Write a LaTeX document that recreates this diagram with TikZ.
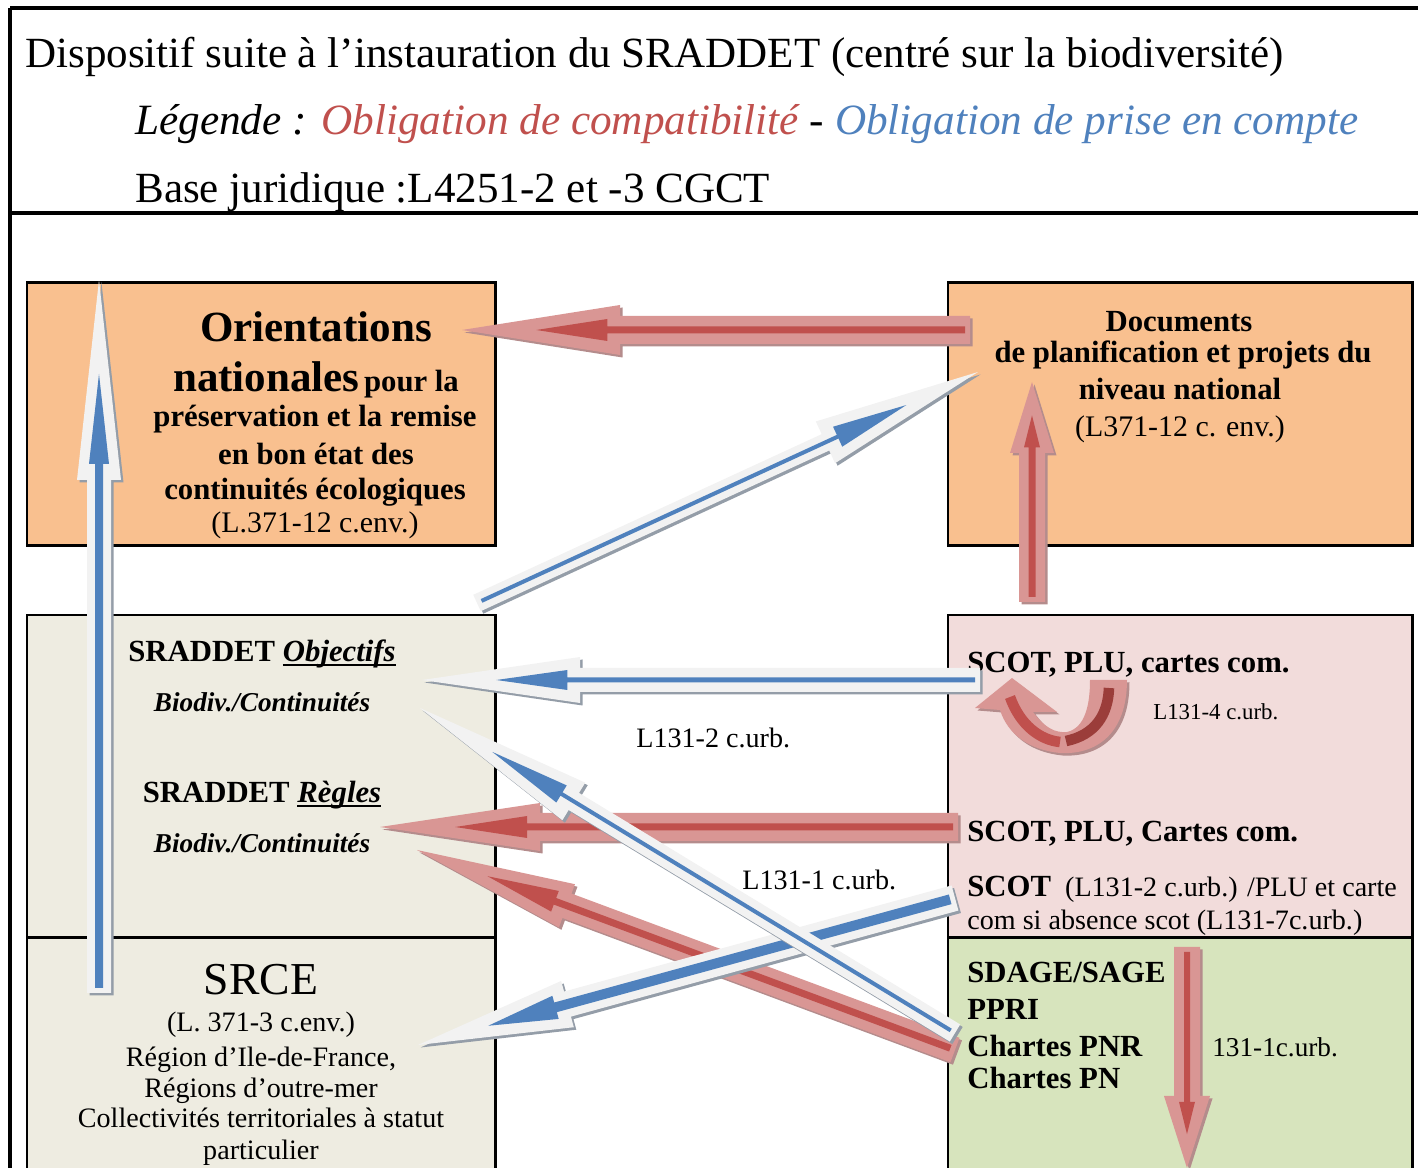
\documentclass[tikz,border=0pt]{standalone}
\usepackage{fontspec}
\setmainfont{Liberation Serif}
\usetikzlibrary{calc}
\definecolor{orangeF}{HTML}{F9C08F}
\definecolor{beigeF}{HTML}{EEECE1}
\definecolor{pinkF}{HTML}{F2DCDB}
\definecolor{greenF}{HTML}{D7E4BD}
\definecolor{redD}{HTML}{C0504D}
\definecolor{redDD}{HTML}{9B3D3A}
\definecolor{redL}{HTML}{D99694}
\definecolor{redS}{HTML}{B48C8C}
\definecolor{blueD}{HTML}{4F81BD}
\definecolor{blueL}{HTML}{F2F2F2}
\definecolor{blueS}{HTML}{949DA8}

\newcommand\fs[1]{\fontsize{#1}{#1}\selectfont}
\newcommand\ulw[1]{\setbox0\hbox{#1}\rlap{\rule[-2.4pt]{\wd0}{1.3pt}}\box0}

% block arrow: #1 tail, #2 tip, #3 shaft half width, #4 head half width, #5 head length (px), #6 style
\newcommand\blockarrow[6]{%
 \fill[#6] ($(#1)!#3*0.02cm!90:(#2)$)
   -- ($(#2)!#5*0.02cm!(#1)!#3*0.02cm!90:(#2)$)
   -- ($(#2)!#5*0.02cm!(#1)!#4*0.02cm!90:(#2)$)
   -- (#2)
   -- ($(#2)!#5*0.02cm!(#1)!#4*0.02cm!-90:(#2)$)
   -- ($(#2)!#5*0.02cm!(#1)!#3*0.02cm!-90:(#2)$)
   -- ($(#1)!#3*0.02cm!-90:(#2)$) -- cycle;}

% layered arrow: #1 tail, #2 tip, #3 s, #4 h, #5 L, #6 inner s, #7 inner h, #8 kind
\newcommand\layarrow[8]{%
 \coordinate (la-s1) at ($(#1)+(2.5,2.5)$);
 \coordinate (la-s2) at ($(#2)+(2.5,2.5)$);
 \blockarrow{la-s1}{la-s2}{#3}{#4}{#5}{#8 shadow}
 \blockarrow{#1}{#2}{#3}{#4}{#5}{#8 body}
 \coordinate (la-i1) at ($(#1)!5*0.02cm!(#2)$);
 \coordinate (la-i2) at ($(#2)!0.47*#5*0.02cm!(#1)$);
 \blockarrow{la-i1}{la-i2}{#6}{#7}{0.45*#5}{#8 core}
}

\tikzset{
  red shadow/.style={fill=redS},
  red body/.style={fill=redL},
  red core/.style={fill=redD},
  blue shadow/.style={fill=blueS},
  blue body/.style={fill=blueL},
  blue core/.style={fill=blueD},
  box/.style={draw, line width=1.7pt, anchor=north west, inner sep=0pt, outer sep=0pt},
  ctxt/.style={inner sep=0pt, anchor=base},
  ltxt/.style={inner sep=0pt, anchor=base west},
  frame/.style={line width=2.3pt},
}

\begin{document}
\begin{tikzpicture}[x=0.02cm, y=-0.02cm]
\useasboundingbox (0,0) rectangle (1418,1168);
\clip (0,0) rectangle (1418,1168);

% frame
\draw[frame] (10,8) -- (1418,8);
\draw[frame] (10,8) -- (10,1168);
\draw[frame] (10,213) -- (1418,213);

% header
\node[ltxt] (title) at (25,68) {\fs{24.5}Dispositif suite à l’instauration du SRADDET (centré sur la biodiversité)};
\node[ltxt] (legend) at (135,135) {\fs{24.6}\itshape Légende : \textcolor{redD}{Obligation de compatibilité} - \textcolor{blueD}{Obligation de prise en compte}};
\node[ltxt] (basej) at (135,203) {\fs{24.5}Base juridique :L4251-2 et -3 CGCT};

% boxes
\node[box, fill=orangeF, minimum width=9.38cm, minimum height=5.26cm] (orient) at (27,283) {};
\node[box, fill=orangeF, minimum width=9.30cm, minimum height=5.26cm] (docs) at (948,283) {};
\node[box, fill=beigeF, minimum width=9.38cm, minimum height=6.46cm] (sraddet) at (27,615) {};
\node[box, fill=beigeF, minimum width=9.38cm, minimum height=5cm] (srce) at (27,938) {};
\node[box, fill=pinkF, minimum width=9.30cm, minimum height=6.46cm] (scot) at (948,615) {};
\node[box, fill=greenF, minimum width=9.30cm, minimum height=5cm] (sdage) at (948,938) {};

% texts: orientations
\node[ctxt] (o1) at (316,342) {\fs{24.5}\bfseries Orientations};
\node[ctxt] (o2) at (316,392) {\bfseries{\fs{24.5}nationales} {\fs{17.5}pour la}};
\node[ctxt] (o3) at (315,427) {\fs{17.5}\bfseries préservation et la remise};
\node[ctxt] (o4) at (316,465) {\fs{17.5}\bfseries en bon état des};
\node[ctxt] (o5) at (315,500) {\fs{17.5}\bfseries continuités écologiques};
\node[ctxt] (o6) at (315,533) {\fs{17}(L.371-12 c.env.)};

% documents
\node[ctxt] (d1) at (1179,332) {\fs{17.5}\bfseries Documents};
\node[ctxt] (d2) at (1183,363) {\fs{17.5}\bfseries de planification et projets du};
\node[ctxt] (d3) at (1180,400) {\fs{17.5}\bfseries niveau national};
\node[ctxt] (d4) at (1180,437) {\fs{17}(L371-12 c. env.)};

% sraddet
\node[ctxt] (s1) at (262,662) {\fs{17.5}\bfseries SRADDET \ulw{\itshape Objectifs}};
\node[ctxt] (s2) at (262,712) {\fs{15.5}\bfseries\itshape Biodiv./Continuités};
\node[ctxt] (s3) at (262,803) {\fs{17.5}\bfseries SRADDET \ulw{\itshape Règles}};
\node[ctxt] (s4) at (262,853) {\fs{15.5}\bfseries\itshape Biodiv./Continuités};

% srce
\node[ctxt] (r1) at (261,995) {\fs{26}SRCE};
\node[ctxt] (r2) at (261,1032) {\fs{16}(L. 371-3 c.env.)};
\node[ctxt] (r3) at (261,1067) {\fs{16}Région d'Ile-de-France,};
\node[ctxt] (r4) at (261,1098) {\fs{16}Régions d'outre-mer};
\node[ctxt] (r5) at (261,1128) {\fs{16}Collectivités territoriales à statut};
\node[ctxt] (r6) at (261,1160) {\fs{16}particulier};

% scot
\node[ltxt] (c1) at (967,673) {\fs{17.5}\bfseries SCOT, PLU, cartes com.};
\node[ltxt] (c2) at (1153,720) {\fs{13}L131-4 c.urb.};
\node[ltxt] (c3) at (967,842) {\fs{17.5}\bfseries SCOT, PLU, Cartes com.};
\node[ltxt] (c4) at (967,897) {\fs{16}\textbf{\fs{17.5}SCOT}\ \ (L131-2 c.urb.) /PLU et carte};
\node[ltxt] (c5) at (967,930) {\fs{16}com si absence scot (L131-7c.urb.)};

% sdage
\node[ltxt] (g1) at (967,983) {\fs{17.5}\bfseries SDAGE/SAGE};
\node[ltxt] (g2) at (967,1020) {\fs{17.5}\bfseries PPRI};
\node[ltxt] (g3) at (967,1057) {\fs{17.5}\bfseries Chartes PNR};
\node[ltxt] (g4) at (967,1089) {\fs{17.5}\bfseries Chartes PN};
\node[ltxt] (g5) at (1212,1057) {\fs{15.5}131-1c.urb.};

% free labels
\node[ltxt] (lab1) at (636,748) {\fs{16}L131-2 c.urb.};
\node[ltxt] (lab2) at (742,890) {\fs{16}L131-1 c.urb.};

% arrow end points
\coordinate (aT) at (970,330);  \coordinate (aH) at (462,330);
\coordinate (iT) at (1032,602); \coordinate (iH) at (1032,382);
\coordinate (jT) at (1187,947); \coordinate (jH) at (1187,1168);
\coordinate (bT) at (99,993);   \coordinate (bH) at (99,280);
\coordinate (cT) at (477,603);  \coordinate (cH) at (978,372);
\coordinate (dT) at (980,680);  \coordinate (dH) at (422,680);
\coordinate (fT) at (958,827);  \coordinate (fH) at (380,827);
\coordinate (gT) at (955,1050); \coordinate (gH) at (417,850);
\coordinate (hT) at (955,898);  \coordinate (hH) at (418,1045);
\coordinate (eT) at (955,1033); \coordinate (eH) at (420,708);

% red arrows
\layarrow{aT}{aH}{14}{25}{158}{3.5}{11}{red}
\layarrow{iT}{iH}{13}{22}{71}{3.5}{8}{red}
\layarrow{jT}{jH}{13}{23}{72}{3}{8}{red}

% curved red arrow (L131-4)
\fill[redS, shift={(2.5,2.5)}] (1127,680) .. controls (1127,735) and (1095,755) .. (1060,753)
   .. controls (1030,750) and (1008,735) .. (1000,710) -- (975,708) -- (1012,678) -- (1057,712) -- (1033,712)
   .. controls (1045,728) and (1055,733) .. (1067,732) .. controls (1085,728) and (1090,705) .. (1090,680) -- cycle;
\fill[redL] (1127,680) .. controls (1127,735) and (1095,755) .. (1060,753)
   .. controls (1030,750) and (1008,735) .. (1000,710) -- (975,708) -- (1012,678) -- (1057,712) -- (1033,712)
   .. controls (1045,728) and (1055,733) .. (1067,732) .. controls (1085,728) and (1090,705) .. (1090,680) -- cycle;
\draw[redD, line width=6pt] (1010,697) .. controls (1020,725) and (1040,740) .. (1060,742);
\draw[redDD, line width=6pt] (1066,741) .. controls (1095,735) and (1108,715) .. (1109,688);

% blue and remaining arrows
\layarrow{bT}{bH}{12}{22}{200}{4}{10}{blue}
\layarrow{cT}{cH}{9}{23}{168}{2}{11}{blue}
\layarrow{dT}{dH}{12}{23}{158}{2.5}{10}{blue}
\layarrow{fT}{fH}{14}{24}{160}{3.5}{11}{red}
\layarrow{gT}{gH}{13}{23}{160}{3.5}{11}{red}
\layarrow{hT}{hH}{13}{24}{155}{5}{12}{blue}
\layarrow{eT}{eH}{10}{22}{180}{2}{10}{blue}
\end{tikzpicture}
\end{document}
